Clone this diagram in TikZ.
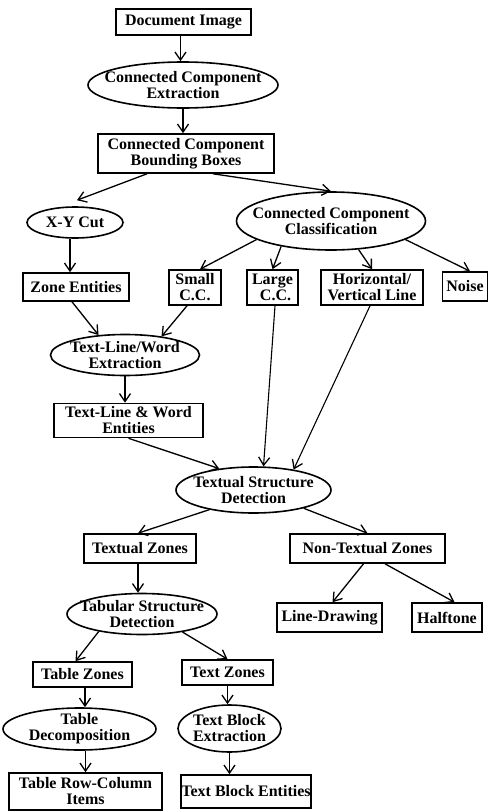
\documentclass[tikz,border=0pt]{standalone}
\usepackage{fontspec}
\setmainfont{Liberation Serif}
\usetikzlibrary{shapes.geometric,arrows.meta}
\begin{document}
\begin{tikzpicture}[x=1pt,y=-1pt,
  every node/.style={font=\fontsize{16}{16}\selectfont\bfseries},
  bx/.style={draw,line width=1.6pt,inner sep=0pt,align=center},
  el/.style={draw,ellipse,line width=1.6pt,inner sep=0pt},
  tx/.style={align=center,inner sep=0pt},
  ar/.style={line width=1.3pt,-{Straight Barb[length=8pt,width=11pt,line width=1.3pt]}},
  ln/.style={line width=1.1pt,-{Straight Barb[length=8pt,width=11pt,line width=1.3pt]}}]
\useasboundingbox (0,0) rectangle (490,811);
% boxes
\node[bx,minimum width=135pt,minimum height=26pt] (doc) at (183.5,22) {Document Image};
\node[bx,minimum width=176pt,minimum height=39pt] (ccbb) at (186,153.5) {Connected Component\\Bounding Boxes};
\node[bx,minimum width=106pt,minimum height=28pt] (ze) at (76,287) {Zone Entities};
\node[bx,minimum width=52pt,minimum height=35pt] (small) at (195,287.5) {Small\\C.C.};
\node[bx,minimum width=51pt,minimum height=35pt] (large) at (272.5,287.5) {Large\\\hspace*{6pt}C.C.};
\node[bx,minimum width=102pt,minimum height=35pt] (hv) at (372,287.5) {Horizontal/\\Vertical Line};
\node[bx,minimum width=45pt,minimum height=29pt] (noise) at (465,286.5) {Noise};
\node[bx,minimum width=149pt,minimum height=34pt] (tlwe) at (128.5,420.5) {Text-Line \& Word\\Entities};
\node[bx,minimum width=112pt,minimum height=29pt] (tz) at (140,548.5) {Textual Zones};
\node[bx,minimum width=155pt,minimum height=29pt] (ntz) at (367.5,548.5) {Non-Textual Zones};
\node[bx,minimum width=105pt,minimum height=29pt] (ld) at (329.5,617.5) {Line-Drawing};
\node[bx,minimum width=70pt,minimum height=29pt] (ht) at (447,617.5) {Halftone};
\node[bx,minimum width=99pt,minimum height=25pt] (tblz) at (82.5,674.5) {Table Zones};
\node[bx,minimum width=91pt,minimum height=25pt] (txz) at (227.5,672.5) {Text Zones};
\node[bx,minimum width=153pt,minimum height=37pt] (trci) at (85.5,791.5) {Table Row-Column\\Items};
\node[bx,minimum width=130pt,minimum height=33pt] (tbent) at (246,791.5) {Text Block Entities};
% ellipses
\node[el,minimum width=190pt,minimum height=46pt] (cce) at (183,85) {};
\node[tx] (ccet) at (cce.center) {Connected Component\\Extraction};
\node[el,minimum width=96pt,minimum height=31pt] (xy) at (75,222.5) {};
\node[tx] (xyt) at (xy.center) {X-Y Cut};
\node[el,minimum width=189pt,minimum height=58pt] (ccc) at (331,221) {};
\node[tx] (ccct) at (ccc.center) {Connected Component\\Classification};
\node[el,minimum width=149pt,minimum height=41pt] (tlw) at (125,355) {};
\node[tx] (tlwt) at (tlw.center) {Text-Line/Word\\Extraction};
\node[el,minimum width=155pt,minimum height=46pt] (tsd) at (253.5,490) {};
\node[tx] (tsdt) at (tsd.center) {Textual Structure\\Detection};
\node[el,minimum width=150pt,minimum height=41pt] (tab) at (142,614) {};
\node[tx] (tabt) at (tab.center) {Tabular Structure\\Detection};
\node[el,minimum width=153pt,minimum height=42pt] (td) at (79.5,729) {};
\node[tx] (tdt) at (td.center) {Table\\Decomposition};
\node[el,minimum width=103pt,minimum height=47pt] (tbe) at (229.5,728.5) {};
\node[tx] (tbet) at (tbe.center) {Text Block\\Extraction};
% connectors
\draw[ar] ([xshift=-3pt]doc.south) -- ([xshift=-3pt]doc.south |- cce.north);
\draw[ar] (cce.south) -- (cce.south |- ccbb.north);
\draw[ar] ([xshift=-39pt]ccbb.south) -- ([xshift=2pt,yshift=6pt]xy.north);
\draw[ar] ([xshift=27pt]ccbb.south) -- (ccc.north);
\draw[ar] ([xshift=-5pt]xy.south) -- ([xshift=-5pt]xy.south |- ze.north);
\draw[ar] (ccc.194) -- ([xshift=5pt]small.north);
\draw[ar] (ccc.207) -- (large.north);
\draw[ar] (ccc.314) -- (hv.north);
\draw[ar] (ccc.346) -- ([xshift=5pt]noise.north);
\draw[ar] ([xshift=-4pt]ze.south) -- (tlw.143);
\draw[ar] ([xshift=-8pt]small.south) -- (tlw.27);
\draw[ln] ([xshift=2.5pt]large.south) -- (tsd.67);
\draw[ln] ([xshift=-2pt]hv.south) -- (tsd.27);
\draw[ar] (tlw.south) -- (tlw.south |- tlwe.north);
\draw[ar] (tlwe.south) -- (tsd.148);
\draw[ar] (tsd.204) -- ([xshift=-2pt]tz.north);
\draw[ar] (tsd.340) -- (ntz.north);
\draw[ar] ([xshift=-2pt]tz.south) -- ([xshift=-2pt]tz.south |- tab.north);
\draw[ar] ([xshift=-4pt]ntz.south) -- ([xshift=3pt]ld.north);
\draw[ar] ([xshift=17.5pt]ntz.south) -- ([xshift=7.5pt]ht.north);
\draw[ar] (tab.202) -- ([xshift=-7pt]tblz.north);
\draw[ar] (tab.336) -- (txz.north);
\draw[ar] ([xshift=2.5pt]tblz.south) -- ([xshift=2.5pt]tblz.south |- td.north);
\draw[ar] (txz.south) -- (txz.south |- tbe.north);
\draw[ar] (td.south -| trci.north) -- (trci.north);
\draw[ar] (tbe.south) -- (tbe.south |- tbent.north);
\end{tikzpicture}
\end{document}
